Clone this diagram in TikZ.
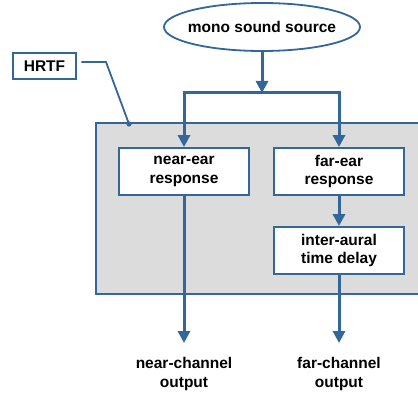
\documentclass[tikz,border=0pt]{standalone}
\usepackage{fontspec}
\setmainfont{Liberation Sans}
\usetikzlibrary{arrows.meta,shapes.geometric}
\definecolor{lineblue}{HTML}{336699}
\definecolor{panelgray}{HTML}{DCDCDC}
\tikzset{
  x=1pt,y=-1pt,
  txt/.style={font=\fontsize{15.5}{18.5}\selectfont\bfseries,align=center,inner sep=0pt},
  blockbox/.style={txt,draw=lineblue,line width=1.8pt,fill=white,minimum width=130pt,minimum height=47pt},
  conn/.style={draw=lineblue,line width=3pt},
  arr/.style={conn,-{Triangle[width=12pt,length=12pt]}},
}
\begin{document}
\begin{tikzpicture}
\useasboundingbox (0,0) rectangle (418,393);
% gray panel
\fill[panelgray] (96,123) rectangle (418,294);
\draw[lineblue,line width=1.8pt] (418,123) -- (96,123) -- (96,294) -- (418,294);
% nodes
\node[ellipse,draw=lineblue,line width=1.8pt,fill=white,inner sep=0pt,minimum width=196pt,minimum height=48pt,label={[txt]center:mono sound source}] (src) at (262,27) {};
\node[txt,draw=lineblue,line width=2.8pt,fill=white,minimum width=63pt,minimum height=26pt] (hrtf) at (44.5,66) {HRTF};
\node[blockbox] (near) at (184,171.5) {near-ear\\response};
\node[blockbox] (far) at (339,171.5) {far-ear\\response};
\node[blockbox] (itd) at (339,250.5) {inter-aural\\time delay};
\node[txt] (nout) at (184,374) {near-channel\\output};
\node[txt] (fout) at (339,374) {far-channel\\output};
\coordinate (split) at (262,93);
\coordinate (dot) at (129,124);
\coordinate (nend) at (184,343);
\coordinate (fend) at (339,343);
% connectors
\draw[arr] (src.south) -- (split);
\draw[conn,line cap=butt] (184,93) -- (339,93);
\draw[arr] (184,91.5) -- (near.north);
\draw[arr] (339,91.5) -- (far.north);
\draw[arr] (far.south) -- (itd.north);
\draw[arr] (near.south) -- (nend);
\draw[arr] (itd.south) -- (fend);
% HRTF leader
\draw[lineblue,line width=1.8pt] ([xshift=4pt]hrtf.east |- 0,62) -- (106,62) -- (dot);
\fill[lineblue] (dot) circle (2.6pt);
\end{tikzpicture}
\end{document}
